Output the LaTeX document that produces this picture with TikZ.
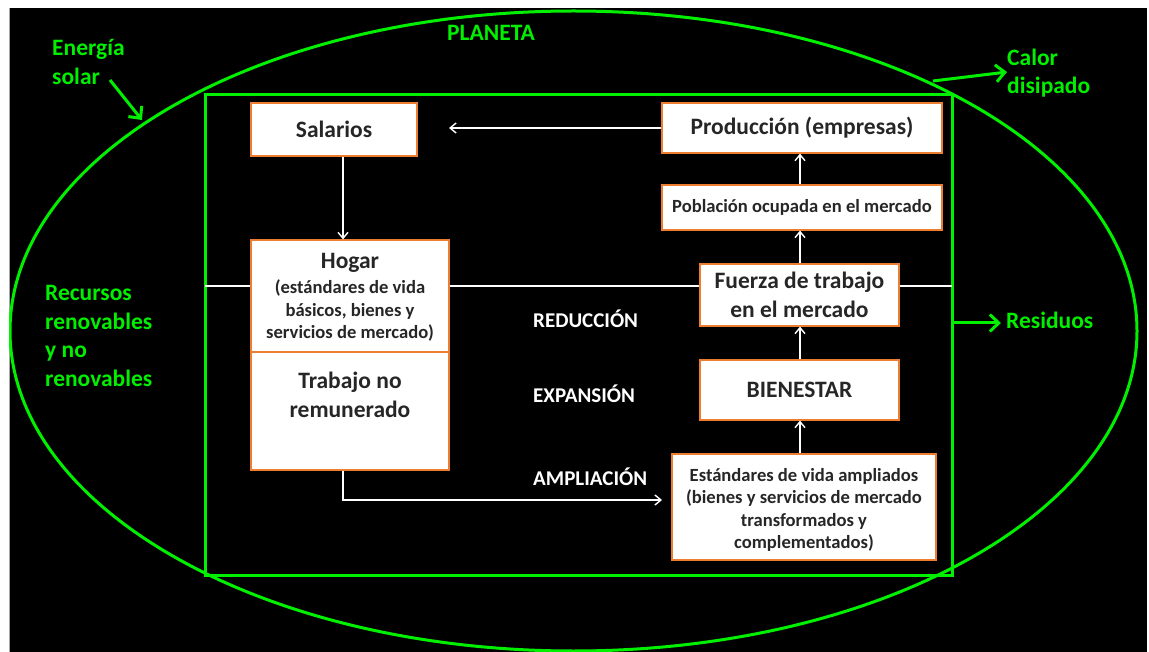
\documentclass[tikz,border=0pt]{standalone}
\usepackage{fontspec}
\setmainfont{Carlito}
\usetikzlibrary{arrows.meta}
\definecolor{planetgreen}{RGB}{0,240,0}
\definecolor{boxorange}{RGB}{237,125,49}
\definecolor{boxtext}{RGB}{38,38,38}
\newcommand{\bigf}{\bfseries\fontsize{23.5}{29}\selectfont}
\newcommand{\smallf}{\bfseries\fontsize{18.6}{22.5}\selectfont}
\begin{document}
\begin{tikzpicture}[x=1pt,y=-1pt,
  box/.style={draw=boxorange, line width=1.2pt, fill=white, inner sep=0pt, align=center, text=boxtext, font=\bfseries},
  big/.style={font=\bigf},
  small/.style={font=\smallf},
  glabel/.style={text=planetgreen, font=\bfseries\fontsize{23.5}{28.7}\selectfont, align=left, inner sep=0pt, anchor=west},
  wlabel/.style={text=white, font=\bfseries\fontsize{21}{24}\selectfont, inner sep=0pt, anchor=west},
  warrow/.style={draw=white, line width=1.4pt, -{Straight Barb[length=6pt,width=10pt]}},
  wline/.style={draw=white, line width=2pt},
  garrow/.style={draw=planetgreen, line width=3pt, -{Straight Barb[length=9pt,width=17pt]}},
]
\useasboundingbox (0,0) rectangle (1149,652);
\fill[white] (0,0) rectangle (1149,652);
\fill[black] (9,8) rectangle (1147,652);
\draw[gray!70, line width=1pt] (9,8) -- (9,652);
\begin{scope}
  \clip (9,8) rectangle (1147,652);
  \draw[planetgreen, line width=3pt] (573.5,331) ellipse [x radius=563.5, y radius=320];
\end{scope}
\draw[planetgreen, line width=3pt] (205,95) rectangle (952,575);

% boxes
\node[box, big, minimum width=166pt, minimum height=53pt] (sal) at (334,129.5) {Salarios};
\node[box, big, minimum width=280pt, minimum height=50pt] (prod) at (802,128) {Producción (empresas)};
\node[box, small, minimum width=280pt, minimum height=45pt] (pob) at (802,207.5) {Población ocupada en el mercado};
\node[box, big, minimum width=199pt, minimum height=62pt] (fue) at (799.5,295) {Fuerza de trabajo\\en el mercado};
\node[box, big, minimum width=199pt, minimum height=60pt] (bien) at (799.5,390) {BIENESTAR};
\node[box, minimum width=264pt, minimum height=106pt] (est) at (804,507) {};
\node[small, text=boxtext, align=center, inner sep=0pt] (estt) at (804,510) {Estándares de vida ampliados\\(bienes y servicios de mercado\\transformados y\\complementados)};
\node[box, minimum width=198pt, minimum height=112pt] (hog) at (350,296) {};
\node[big, text=boxtext, inner sep=0pt] (hogt) at (350,263) {Hogar};
\node[small, text=boxtext, align=center, inner sep=0pt] (hogs) at (350,311) {(estándares de vida\\básicos, bienes y\\servicios de mercado)};
\node[box, minimum width=198pt, minimum height=118pt] (trab) at (350,411) {};
\node[big, text=boxtext, align=center, inner sep=0pt] (trabtxt) at (350,395) {Trabajo no\\remunerado};

% white horizontal line
\coordinate (gl) at (205,286);
\coordinate (gr) at (952,286);
\draw[wline] (gl) -- (hog.west |- gl);
\draw[wline] (hog.east |- gl) -- (fue.west |- gl);
\draw[wline] (fue.east |- gl) -- (gr);

% white arrows
\coordinate (salin) at (449,128);
\draw[warrow] (prod.west |- salin) -- (salin);
\draw[warrow] (sal.south -| 343,0) -- (hog.north -| 343,0);
\coordinate (bend) at (343,500);
\coordinate (estin) at (662,500);
\draw[warrow] (trab.south -| bend) -- (bend) -- (estin);
\draw[warrow] (est.north -| 800,0) -- (bien.south -| 800,0);
\draw[warrow] (bien.north -| 800,0) -- (fue.south -| 800,0);
\draw[warrow] (fue.north -| 800,0) -- (pob.south -| 800,0);
\draw[warrow] (pob.north -| 800,0) -- (prod.south -| 800,0);

% white labels
\node[wlabel] (red) at (533,319) {REDUCCIÓN};
\node[wlabel] (exp) at (533,394) {EXPANSIÓN};
\node[wlabel] (amp) at (533,477) {AMPLIACIÓN};

% green labels
\node[glabel] (planeta) at (447,33) {PLANETA};
\node[glabel] (energia) at (52,62) {Energía\\solar};
\node[glabel] (calor) at (1007,73) {Calor\\disipado};
\node[glabel] (recursos) at (45,336) {Recursos\\renovables\\y no\\renovables};
\node[glabel] (residuos) at (1006,320) {Residuos};

% green arrows
\coordinate (e1) at (110,80);
\coordinate (e2) at (142,120);
\draw[garrow] (e1) -- (e2);
\coordinate (c1) at (933,81);
\draw[garrow] (c1) -- (calor.west |- 0,72);
\coordinate (r1) at (953,323);
\draw[garrow] (r1) -- (1001,323);
\end{tikzpicture}
\end{document}
